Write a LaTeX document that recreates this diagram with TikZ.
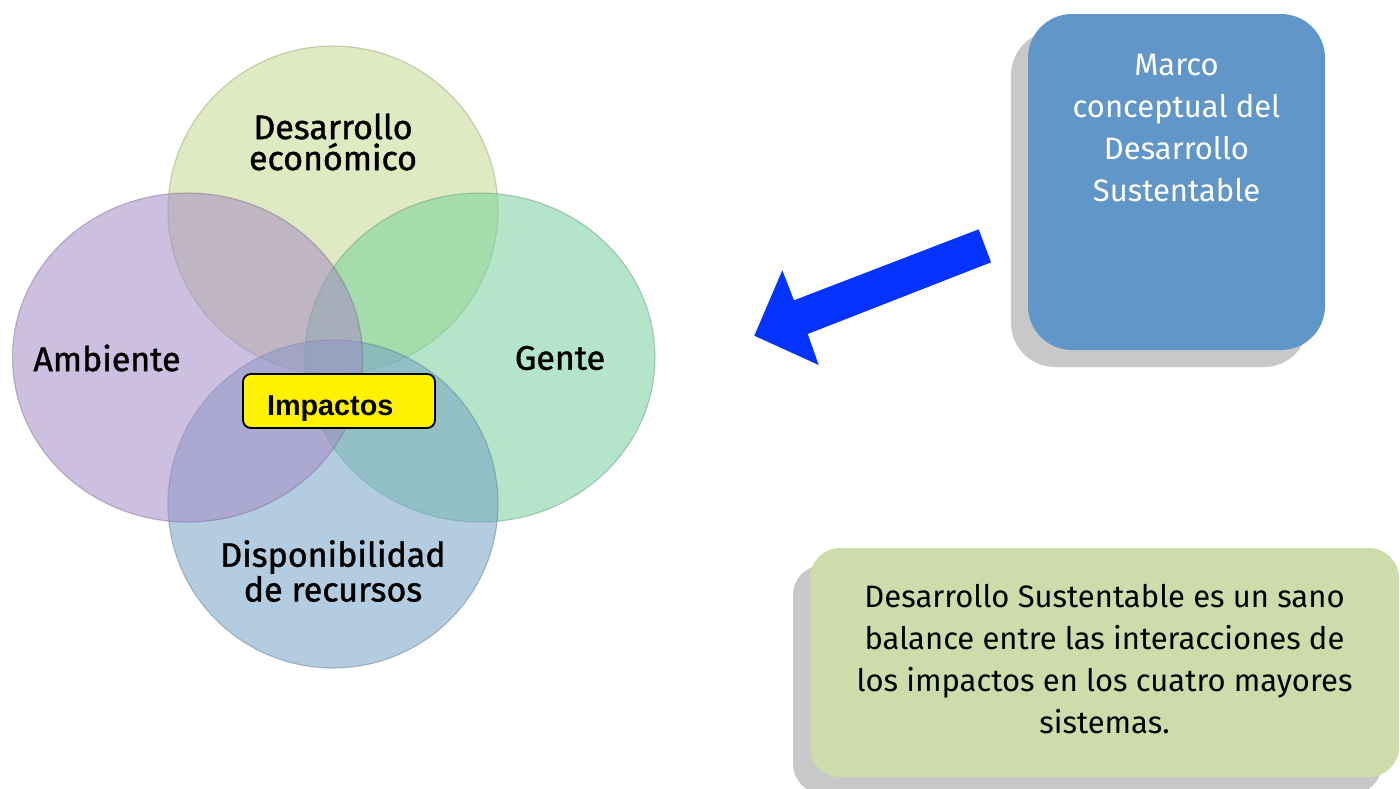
\documentclass[tikz,border=0pt]{standalone}
\usepackage{fontspec}
\setmainfont{Fira Sans}
\newfontfamily\labelfont{Fira Sans}[FakeBold=1.2]
\newfontfamily\arialfont{Liberation Sans}
\usetikzlibrary{shapes.geometric,shadows}
\definecolor{ecoColor}{HTML}{C5D790}
\definecolor{genteColor}{HTML}{78D09B}
\definecolor{recColor}{HTML}{77A2C7}
\definecolor{ambColor}{HTML}{A48BC5}
\definecolor{marcoBlue}{HTML}{6096C8}
\definecolor{notaGreen}{HTML}{CDDCAA}
\definecolor{arrowBlue}{HTML}{0433FF}
\definecolor{shadowGray}{HTML}{C8C8C8}
\begin{document}
\begin{tikzpicture}[x=.5pt, y=-.5pt,
	venn/.style={ellipse, inner sep=0pt, fill=#1, fill opacity=.55,
		draw=#1!70!black, draw opacity=.4, line width=.6pt},
	vennlabel/.style={font=\labelfont\fontsize{17}{15.5}\selectfont, align=center},
	infobox/.style={rectangle, rounded corners=#1, inner sep=0pt,
		drop shadow={shadow xshift=-8.5pt, shadow yshift=-8.5pt, fill=shadowGray, opacity=1}},
	boxtext/.style={font=\fontsize{15.5}{21}\selectfont, align=center},
	impactbox/.style={draw=black, line width=.9pt, fill=yellow, rounded corners=4pt,
		minimum height=27pt, text width=72pt, inner xsep=12pt, align=left,
		text height=14.4pt, text depth=0pt,
		font=\arialfont\bfseries\fontsize{14.4}{16}\selectfont}]
	\useasboundingbox (0,0) rectangle (1400,788);
	%circles
	\node[venn=ecoColor, minimum width=165pt, minimum height=164pt] (eco) at (333,210) {};
	\node[venn=genteColor, minimum width=175pt, minimum height=164.5pt] (gente) at (480,357.5) {};
	\node[venn=recColor, minimum width=165pt, minimum height=164pt] (rec) at (333,504) {};
	\node[venn=ambColor, minimum width=175pt, minimum height=164.5pt] (amb) at (187.5,357.5) {};
	%labels
	\node[vennlabel] (ecolabel) at (333,142) {Desarrollo\\económico};
	\node[vennlabel] (amblabel) at (107,358) {Ambiente};
	\node[vennlabel] (gentelabel) at (560,358) {Gente};
	\node[vennlabel] (reclabel) at (333,571) {Disponibilidad\\de recursos};
	\node[impactbox] (impactos) at (339,401) {Impactos};
	%boxes
	\node[infobox=22pt, fill=marcoBlue, minimum width=148.5pt, minimum height=168pt] (marco) at (1176.5,182) {};
	\node[boxtext, text=white] (marcotext) at (1176.5,128) {Marco\\conceptual del\\Desarrollo\\Sustentable};
	\node[infobox=15pt, fill=notaGreen, minimum width=294.5pt, minimum height=114.5pt] (nota) at (1104.5,662.5) {};
	\node[boxtext] (notatext) at (1104.5,659) {Desarrollo Sustentable es un sano\\balance entre las interacciones de\\los impactos en los cuatro mayores\\sistemas.};
	%arrow
	\fill[arrowBlue] (978.7,229.3) -- (991,262.3) -- (807.7,334) -- (818.7,365)
		-- (754.3,335.7) -- (782.3,270.3) -- (794,300.3) -- cycle;
\end{tikzpicture}
\end{document}
